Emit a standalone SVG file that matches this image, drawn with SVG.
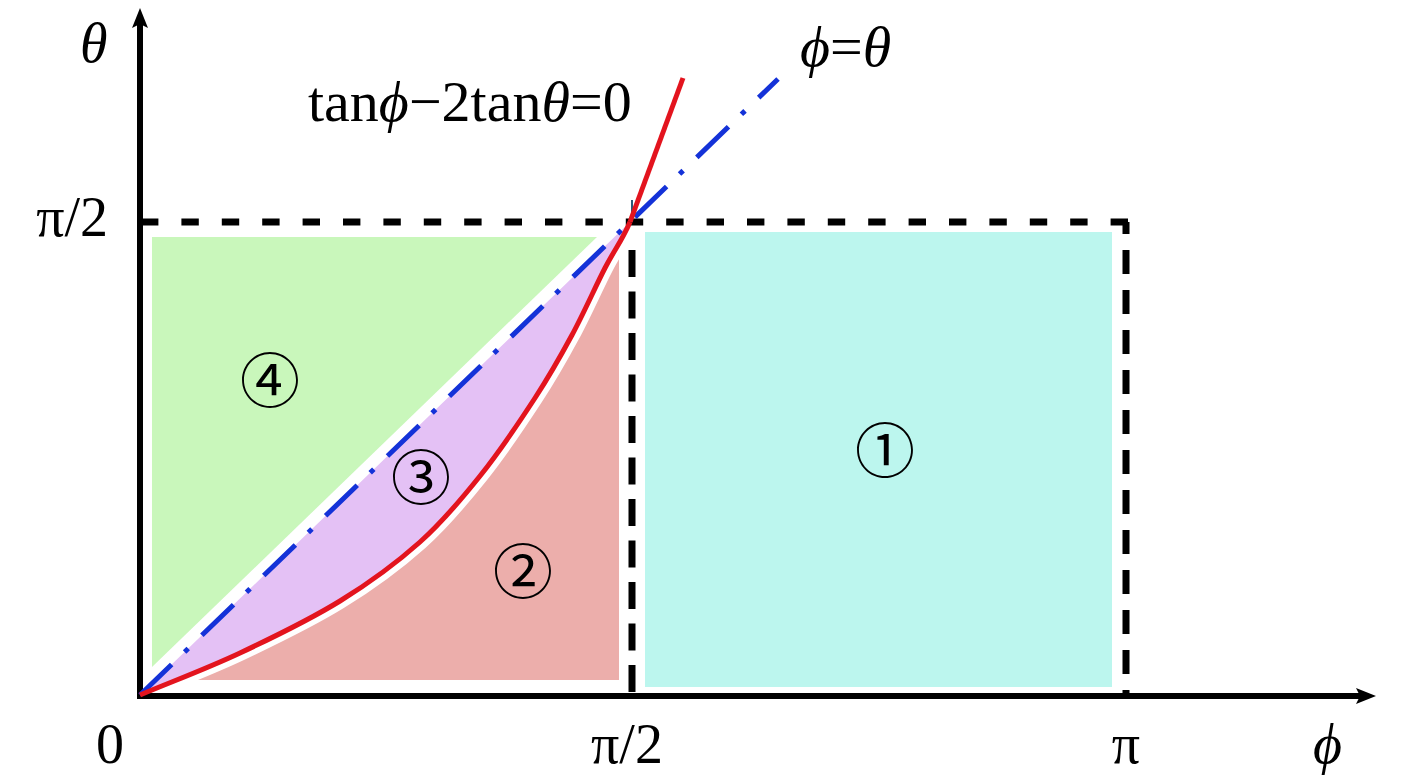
<svg xmlns="http://www.w3.org/2000/svg" width="1417" height="783" viewBox="0 0 1417 783">
<style>
.lbl{font-family:"Liberation Serif","DejaVu Serif","Times New Roman",serif;font-size:56px;fill:#000}
.it{font-style:italic}
.num{font-family:"Liberation Serif","DejaVu Serif","Noto Sans CJK JP",serif;font-size:60px;fill:#000;text-anchor:middle;dominant-baseline:central}
.dash{fill:none;stroke:#000;stroke-width:7}
.axis{fill:none;stroke:#000;stroke-width:6}
</style>
<defs>
<marker id="arrow" viewBox="0 0 20 16" refX="10" refY="8" markerWidth="20" markerHeight="16" markerUnits="userSpaceOnUse" orient="auto">
<path d="M0,0 L20,8 L0,16 L4,8 Z" fill="#000"/>
</marker>
<clipPath id="below">
<path d="M140,695 C173.3,681 206.7,668.7 240,653 C273.3,637.3 310,619.5 340,601 C370,582.5 396.7,562.8 420,542 C443.3,521.2 460.8,500 480,476 C499.2,452 519.7,421.5 535,398 C550.3,374.5 560.3,356.7 572,335 C583.7,313.3 595.3,286.8 605,268 C614.7,249.2 621.5,241.7 630,222 L700,222 L700,800 L140,800 Z"/>
</clipPath>
<path id="curve" d="M140,695 C173.3,681 206.7,668.7 240,653 C273.3,637.3 310,619.5 340,601 C370,582.5 396.7,562.8 420,542 C443.3,521.2 460.8,500 480,476 C499.2,452 519.7,421.5 535,398 C550.3,374.5 560.3,356.7 572,335 C583.7,313.3 595.3,286.8 605,268 C614.7,249.2 621.5,241.7 630,222"/>
</defs>
<rect width="1417" height="783" fill="#fff"/>
<g id="region4"><polygon points="152,237 597,237 152,667" fill="#c9f7bb"/></g>
<g id="region1"><rect x="645" y="232" width="467" height="455" fill="#bcf6ee"/></g>
<g id="region2"><rect x="150" y="230" width="469" height="450" fill="#ecaeab" clip-path="url(#below)"/></g>
<use href="#curve" fill="none" stroke="#fff" stroke-width="16"/>
<g id="region3"><path d="M140,695 C173.3,681 206.7,668.7 240,653 C273.3,637.3 310,619.5 340,601 C370,582.5 396.7,562.8 420,542 C443.3,521.2 460.8,500 480,476 C499.2,452 519.7,421.5 535,398 C550.3,374.5 560.3,356.7 572,335 C583.7,313.3 595.3,286.8 605,268 C614.7,249.2 621.5,241.7 630,222 Z" fill="#e4c1f5"/></g>
<g id="connectors">
<line class="dash" x1="141" y1="222" x2="1129" y2="222" stroke-dasharray="17.4 23"/>
<line class="dash" x1="632" y1="250" x2="632" y2="696" stroke-dasharray="27 14.5"/>
<line class="dash" x1="1126" y1="222" x2="1126" y2="696" stroke-dasharray="24 16" stroke-dashoffset="12"/>
<line class="axis" x1="140" y1="699" x2="140" y2="18" marker-end="url(#arrow)"/>
<line class="axis" x1="137" y1="696" x2="1366" y2="696" marker-end="url(#arrow)"/>
<line x1="632" y1="200" x2="632" y2="222" stroke="#2a5a78" stroke-width="2"/>
<line x1="140" y1="695" x2="778" y2="79" stroke="#1432d8" stroke-width="5" stroke-dasharray="44 18 5 19"/>
<use href="#curve" fill="none" stroke="#e3141e" stroke-width="5"/>
<line x1="630" y1="222" x2="683" y2="78" stroke="#e3141e" stroke-width="5"/>
</g>
<g id="labels">
<text class="lbl it" x="80" y="62">θ</text>
<text class="lbl" x="108" y="236" text-anchor="end">π/2</text>
<text class="lbl" x="96" y="763">0</text>
<text class="lbl" x="627" y="763" text-anchor="middle">π/2</text>
<text class="lbl" x="1126" y="763" text-anchor="middle">π</text>
<text class="lbl it" x="1313" y="763">ϕ</text>
<text class="lbl" x="308" y="121" style="font-size:58px">tan<tspan class="it">ϕ</tspan>−2tan<tspan class="it">θ</tspan>=0</text>
<text class="lbl" x="800" y="66" style="font-size:58px"><tspan class="it">ϕ</tspan>=<tspan class="it">θ</tspan></text>
</g>
<g id="n1"><text class="num" x="885" y="453">①</text></g>
<g id="n2"><text class="num" x="523" y="574">②</text></g>
<g id="n3"><text class="num" x="421" y="480">③</text></g>
<g id="n4"><text class="num" x="270" y="383">④</text></g>
</svg>
